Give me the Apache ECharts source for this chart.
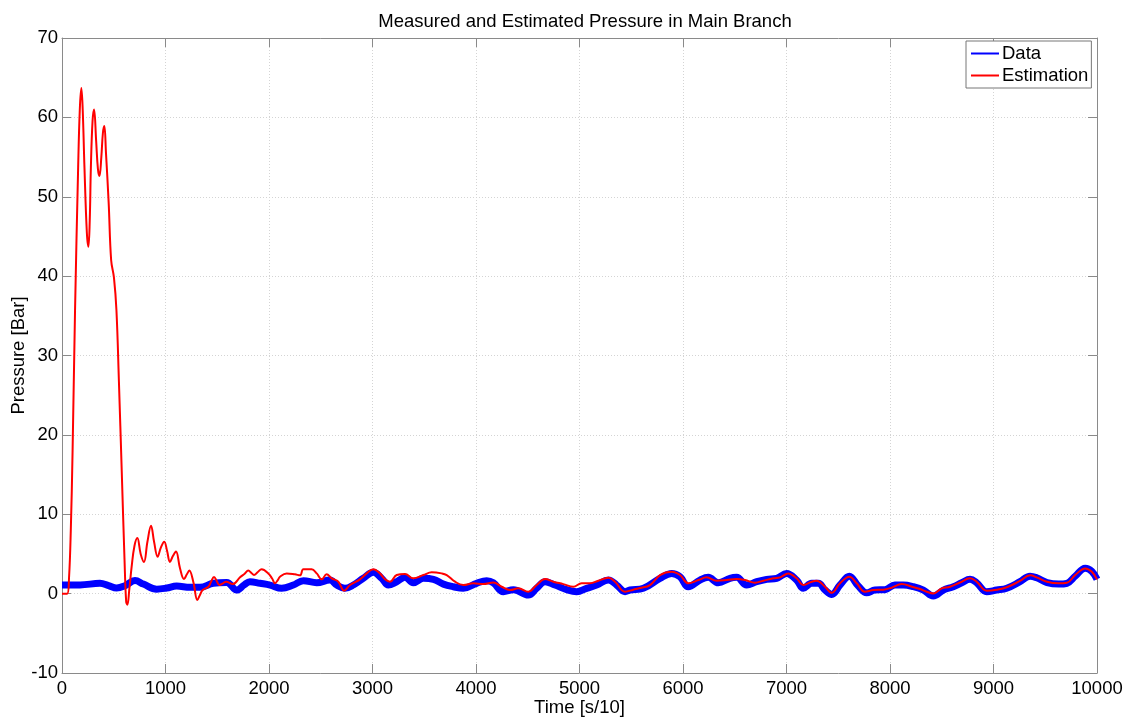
<!DOCTYPE html>
<html>
<head>
<meta charset="utf-8">
<script src="https://cdn.jsdelivr.net/npm/echarts@6/dist/echarts.min.js"></script>
<style>html,body{margin:0;padding:0;background:#fff;}#c{width:1133px;height:718px;}</style>
</head>
<body>
<div id="c"></div>
<script>
// ---- Data ----
var xTicks = [0,1000,2000,3000,4000,5000,6000,7000,8000,9000,10000];
var yTicks = [-10,0,10,20,30,40,50,60,70];

var dataT = [0,174,367,450,528,609,705,786,915,1011,1108,1237,1333,1462,1591,1688,1760,1816,1913,2010,2122,2235,2332,2461,2589,2654,2734,2815,2911,3008,3089,3153,3234,3314,3394,3491,3588,3685,3781,3877,4006,4103,4167,4264,4361,4505,4586,4667,4763,4876,4972,5069,5166,5279,5359,5440,5488,5617,5778,5891,5971,6051,6164,6244,6341,6454,6518,6615,6712,6808,6905,7001,7098,7162,7243,7308,7372,7437,7517,7607,7694,7774,7855,7952,8048,8129,8226,8323,8418,8516,8612,8693,8773,8837,8934,9031,9128,9256,9353,9417,9517,9630,9710,9790,9886,9950,10000];
var dataP = [1.1,1.1,1.3,1.0,0.7,1.0,1.65,1.2,0.56,0.7,0.95,0.8,0.8,1.3,1.4,0.45,1.1,1.5,1.3,1.08,0.67,1.08,1.63,1.37,1.71,1.08,0.67,1.08,1.93,2.68,1.93,1.08,1.5,2.05,1.37,1.93,1.8,1.2,0.87,0.67,1.3,1.63,1.37,0.24,0.5,-0.18,0.67,1.5,1.08,0.5,0.24,0.67,1.08,1.71,1.08,0.24,0.45,0.67,1.93,2.55,2.13,0.87,1.71,2.05,1.37,1.93,2.05,1.08,1.5,1.8,1.93,2.55,1.71,0.67,1.3,1.3,0.45,-0.1,1.08,2.2,0.95,0.1,0.45,0.5,1.08,1.08,0.87,0.45,-0.3,0.45,0.87,1.37,1.8,1.37,0.24,0.45,0.67,1.5,2.2,2.0,1.4,1.2,1.3,2.2,3.2,2.8,1.8];

var estT = [0,50,68,85,102,126,156,172,187,200,217,240,255,268,279,295,310,330,347,362,380,395,409,425,451,475,502,526,550,577,604,620,632,650,673,700,728,760,792,825,860,890,924,955,988,1015,1043,1070,1101,1140,1179,1205,1230,1270,1308,1335,1359,1414,1440,1469,1495,1520,1555,1585,1649,1720,1765,1800,1830,1855,1890,1929,1993,2030,2058,2085,2106,2171,2251,2300,2332,2412,2461,2509,2557,2606,2670,2725,2783,2879,2944,3008,3072,3121,3169,3234,3314,3394,3491,3572,3668,3717,3797,3877,3974,4071,4167,4248,4329,4409,4505,4586,4667,4747,4844,4940,5021,5101,5182,5279,5343,5440,5520,5584,5681,5778,5891,5971,6051,6148,6228,6325,6422,6518,6599,6696,6776,6873,6937,7017,7098,7162,7243,7291,7372,7437,7517,7607,7678,7758,7839,7935,8016,8113,8213,8290,8354,8418,8500,8580,8676,8773,8837,8934,9031,9128,9256,9353,9417,9517,9630,9710,9790,9886,9950,10000];
var estP = [0,0,2,8,17.8,35.7,53.7,61,63.7,61,53.7,45.5,43.7,47,53.7,59.5,61.0,57,53.5,52.6,55,58,58.9,55.5,49.2,42,39.8,35.7,26.7,15.5,4.3,-1.0,-1.4,0.5,3.4,6.0,7.0,5.0,4.0,6.5,8.55,6.5,4.65,5.8,6.55,5.4,4.0,4.7,5.3,3.2,1.84,2.4,2.9,1.4,-0.8,-0.1,0.45,0.87,1.5,2.1,1.6,1.08,1.3,1.5,1.2,2.05,2.5,2.9,2.6,2.34,2.7,3.06,2.55,1.9,1.3,1.7,2.13,2.55,2.43,2.3,3.06,3.06,2.55,1.8,2.43,1.93,1.5,0.37,1.08,1.8,2.55,3.06,2.55,1.8,1.5,2.34,2.47,1.93,2.34,2.68,2.55,2.34,1.5,1.08,1.3,1.2,1.4,0.87,0.45,0.67,0.24,1.08,1.84,1.5,1.2,0.87,1.3,1.3,1.63,2.0,1.5,0.24,0.5,0.7,1.08,2.34,2.76,2.34,1.3,1.71,2.05,1.63,1.71,1.84,1.71,1.37,1.63,1.93,2.05,2.55,1.93,1.08,1.5,1.63,0.87,0.1,1.3,2.13,1.3,0.24,0.45,0.5,0.75,1.2,0.87,0.58,0.24,0.03,0.67,0.87,1.4,1.93,1.5,0.37,0.5,0.8,1.6,2.3,2.05,1.5,1.3,1.37,2.34,3.18,2.76,1.8];

function pairs(t, v){ return t.map(function(x,i){ return [x, v[i]]; }); }

var FONT = 'Liberation Sans, Arial, sans-serif';
var FS = 18.5;
var axisGrey = '#8a8a8a';
var chart = echarts.init(document.getElementById('c'), null, {renderer:'canvas'});
var xBase = {type:'value', min:xTicks[0], max:xTicks[xTicks.length-1], interval:xTicks[1]-xTicks[0]};
var yBase = {type:'value', min:yTicks[0], max:yTicks[yTicks.length-1], interval:yTicks[1]-yTicks[0]};
var plain = function(v){ return String(v); };
var gridLine = {show:true, lineStyle:{color:'#d4d4d4', type:[1,2], width:1}};
chart.setOption({
  backgroundColor:'#fff',
  animation:false,
  title:{text:'Measured and Estimated Pressure in Main Branch', left:580, top:7, textAlign:'center',
    textStyle:{fontFamily:FONT, fontSize:FS, fontWeight:'normal', color:'#000'}},
  grid:{left:62, right:36, top:38, bottom:45, containLabel:false, outerBoundsMode:'none'},
  legend:{
    left:966, top:41, orient:'vertical', itemGap:3, padding:[3,3,3,5],
    borderColor:'#777', borderWidth:1, backgroundColor:'#fff',
    itemWidth:28, itemHeight:2, icon:'rect',
    textStyle:{fontFamily:FONT, fontSize:FS, color:'#000', padding:[0,0,0,-2]},
    data:['Data','Estimation']
  },
  xAxis:[
    Object.assign({}, xBase, {position:'bottom', name:'Time [s/10]', nameLocation:'middle', nameGap:25,
      nameMoveOverlap:false,
      nameTextStyle:{fontFamily:FONT, fontSize:FS, color:'#000'},
      axisLine:{show:true, onZero:false, lineStyle:{color:axisGrey}},
      axisTick:{show:true, inside:true, length:9, lineStyle:{color:axisGrey}},
      axisLabel:{fontFamily:FONT, fontSize:FS, color:'#000', margin:6, formatter:plain},
      splitLine:gridLine}),
    Object.assign({}, xBase, {position:'top',
      axisLine:{show:true, onZero:false, lineStyle:{color:axisGrey}},
      axisTick:{show:true, inside:true, length:9, lineStyle:{color:axisGrey}},
      axisLabel:{show:false}, splitLine:{show:false}})
  ],
  yAxis:[
    Object.assign({}, yBase, {position:'left', name:'Pressure [Bar]', nameLocation:'middle', nameGap:34,
      nameMoveOverlap:false,
      nameTextStyle:{fontFamily:FONT, fontSize:FS, color:'#000'},
      axisLine:{show:true, onZero:false, lineStyle:{color:axisGrey}},
      axisTick:{show:true, inside:true, length:9, lineStyle:{color:axisGrey}},
      axisLabel:{fontFamily:FONT, fontSize:FS, color:'#000', margin:4, formatter:plain},
      splitLine:gridLine}),
    Object.assign({}, yBase, {position:'right',
      axisLine:{show:true, onZero:false, lineStyle:{color:axisGrey}},
      axisTick:{show:true, inside:true, length:9, lineStyle:{color:axisGrey}},
      axisLabel:{show:false}, splitLine:{show:false}})
  ],
  series:[
    {name:'Data', type:'line', xAxisIndex:0, yAxisIndex:0, data:pairs(dataT,dataP),
      showSymbol:false, symbol:'none', smooth:0.4, color:'#0000ff',
      lineStyle:{color:'#0000ff', width:7}},
    {name:'Estimation', type:'line', xAxisIndex:0, yAxisIndex:0, data:pairs(estT,estP),
      showSymbol:false, symbol:'none', smooth:0.4, color:'#ff0000',
      lineStyle:{color:'#ff0000', width:2}}
  ]
});
</script>
</body>
</html>
